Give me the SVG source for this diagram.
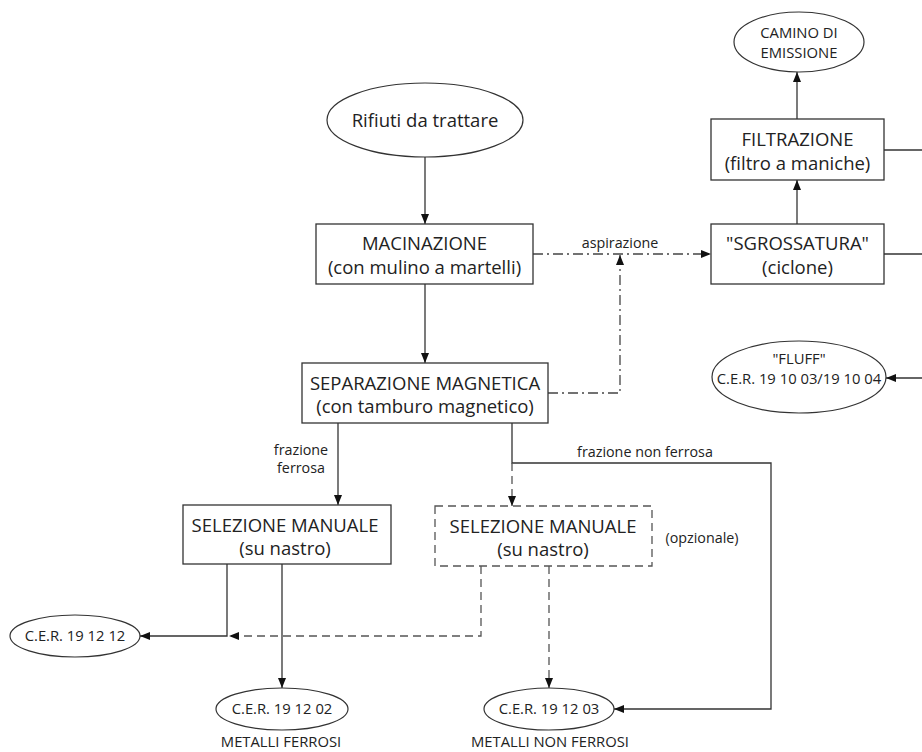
<svg xmlns="http://www.w3.org/2000/svg" width="922" height="752" viewBox="0 0 922 752">
<defs>
<style>
text{font-family:"Open Sans","Liberation Sans",sans-serif;fill:#222;text-anchor:middle}
.b{font-size:18.5px}
.s{font-size:14.3px}
.e{font-size:14.8px}
.m{font-size:14.8px}
.box{fill:#fff;stroke:#333;stroke-width:1.3}
.dbox{fill:#fff;stroke:#555;stroke-width:1.3;stroke-dasharray:8,5}
.ell{fill:#fff;stroke:#333;stroke-width:1.2}
.c{fill:none;stroke:#333;stroke-width:1.3}
.dash{stroke-dasharray:8,5;stroke:#555}
.dd{stroke-dasharray:10,4,2,4;stroke:#444}
</style>
<marker id="arr" viewBox="0 0 10 8" refX="10" refY="4" markerWidth="10" markerHeight="8" orient="auto" markerUnits="userSpaceOnUse"><path d="M0,0 L10,4 L0,8 z" fill="#111"/></marker>
</defs>
<rect width="922" height="752" fill="#fff"/>

<g id="connectors">
<path class="c" d="M425,157 V224" marker-end="url(#arr)"/>
<path class="c" d="M425,284 V363" marker-end="url(#arr)"/>
<path class="c dd" d="M533,254 H711" marker-end="url(#arr)"/>
<path class="c dd" d="M548,393 H620 V255" marker-end="url(#arr)"/>
<path class="c" d="M797,224 V180" marker-end="url(#arr)"/>
<path class="c" d="M797,119 V72" marker-end="url(#arr)"/>
<path class="c" d="M884,150 H922"/>
<path class="c" d="M884,254 H922"/>
<path class="c" d="M922,378 H886" marker-end="url(#arr)"/>
<path class="c" d="M338,423 V505" marker-end="url(#arr)"/>
<path class="c" d="M512,423 V463 H771 V709 H614" marker-end="url(#arr)"/>
<path class="c dash" d="M512,463 V506" marker-end="url(#arr)"/>
<path class="c" d="M227,564 V636 H140" marker-end="url(#arr)"/>
<path class="c" d="M282,564 V688" marker-end="url(#arr)"/>
<path class="c dash" d="M481,566 V636 H229" marker-end="url(#arr)"/>
<path class="c dash" d="M549,566 V688" marker-end="url(#arr)"/>
<text class="s" x="620" y="248">aspirazione</text>
<text class="s" x="301" y="455">frazione</text>
<text class="s" x="301" y="473">ferrosa</text>
<text class="s" x="645" y="457">frazione non ferrosa</text>
</g>

<g id="rifiuti">
<ellipse class="ell" cx="425" cy="120" rx="98" ry="37"/>
<text class="b" x="425" y="127">Rifiuti da trattare</text>
</g>

<g id="macinazione">
<rect class="box" x="316" y="224" width="217" height="60"/>
<text class="b" x="424.5" y="250">MACINAZIONE</text>
<text class="b" x="424.5" y="274">(con mulino a martelli)</text>
</g>

<g id="sgrossatura">
<rect class="box" x="711" y="224" width="173" height="60"/>
<text class="b" x="797.5" y="250">"SGROSSATURA"</text>
<text class="b" x="797.5" y="274">(ciclone)</text>
</g>

<g id="filtrazione">
<rect class="box" x="711" y="119" width="173" height="61"/>
<text class="b" x="797.5" y="146">FILTRAZIONE</text>
<text class="b" x="797.5" y="170">(filtro a maniche)</text>
</g>

<g id="camino">
<ellipse class="ell" cx="799" cy="42" rx="65" ry="30"/>
<text class="m" x="799" y="38">CAMINO DI</text>
<text class="m" x="799" y="58">EMISSIONE</text>
</g>

<g id="fluff">
<ellipse class="ell" cx="799" cy="377" rx="87" ry="36"/>
<text class="m" x="799" y="364">"FLUFF"</text>
<text class="m" x="799" y="384">C.E.R. 19 10 03/19 10 04</text>
</g>

<g id="separazione">
<rect class="box" x="302" y="363" width="246" height="60"/>
<text class="b" x="425" y="390">SEPARAZIONE MAGNETICA</text>
<text class="b" x="425" y="413">(con tamburo magnetico)</text>
</g>

<g id="selezione1">
<rect class="box" x="183" y="505" width="208" height="59"/>
<text class="b" x="285" y="532">SELEZIONE MANUALE</text>
<text class="b" x="285" y="555">(su nastro)</text>
</g>

<g id="selezione2">
<rect class="dbox" x="435" y="506" width="217" height="60"/>
<text class="b" x="543" y="533">SELEZIONE MANUALE</text>
<text class="b" x="543" y="556">(su nastro)</text>
<text class="s" x="702" y="543">(opzionale)</text>
</g>

<g id="cer191212">
<ellipse class="ell" cx="75" cy="636" rx="65" ry="21"/>
<text class="e" x="75" y="641">C.E.R. 19 12 12</text>
</g>

<g id="cer191202">
<ellipse class="ell" cx="282" cy="709" rx="66" ry="21"/>
<text class="e" x="282" y="714">C.E.R. 19 12 02</text>
<text class="e" x="281" y="747">METALLI FERROSI</text>
</g>

<g id="cer191203">
<ellipse class="ell" cx="549" cy="709" rx="65" ry="21"/>
<text class="e" x="549" y="714">C.E.R. 19 12 03</text>
<text class="e" x="550" y="747">METALLI NON FERROSI</text>
</g>
</svg>
